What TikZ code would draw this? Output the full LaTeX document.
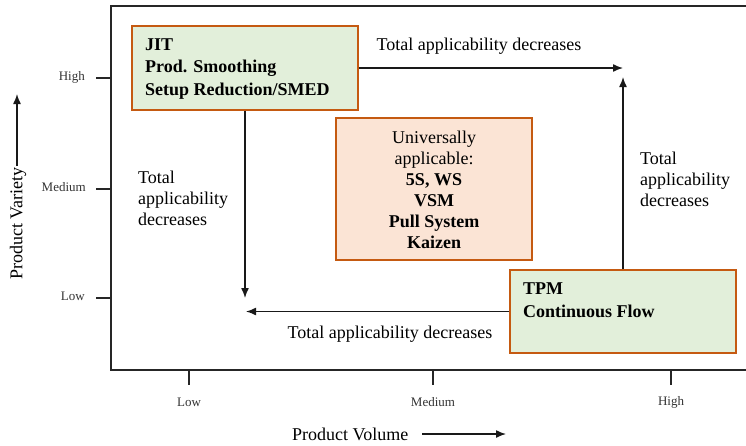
\documentclass[tikz,border=0pt]{standalone}
\usepackage{fontspec}
\setmainfont{Liberation Serif}
\usetikzlibrary{arrows.meta}
\definecolor{boxgreen}{HTML}{E2EFDA}
\definecolor{boxpeach}{HTML}{FBE4D5}
\definecolor{boxedge}{HTML}{C55A11}
\begin{document}
\begin{tikzpicture}[x=1pt,y=-1pt,
  frame/.style={line width=1.6pt, black!85},
  tick/.style={line width=1.4pt, black!85},
  gbox/.style={draw=boxedge, fill=boxgreen, line width=1.4pt, inner sep=0pt},
  pbox/.style={draw=boxedge, fill=boxpeach, line width=1.4pt, inner sep=0pt},
  arr/.style={line width=1.4pt, black!90, -{Latex[length=10pt,width=8pt]}},
  big/.style={font=\fontsize{18}{21}\selectfont, inner sep=0pt},
  bigb/.style={font=\fontsize{18}{22.5}\selectfont\bfseries, inner sep=0pt},
  small/.style={font=\fontsize{13}{15}\selectfont, inner sep=0pt, text=black!80},
]
\useasboundingbox (0,0) rectangle (746,445);
% frame
\draw[frame] (746,6) -- (111,6) -- (111,370) -- (746,370);
% y ticks
\draw[tick] (96,78) -- (111,78);
\draw[tick] (96,189) -- (111,189);
\draw[tick] (96,298) -- (111,298);
\node[small, anchor=east] (yhigh) at (85,77) {High};
\node[small, anchor=east] (ymed) at (86,187) {Medium};
\node[small, anchor=east] (ylow) at (85,296) {Low};
% x ticks
\draw[tick] (189,370) -- (189,385);
\draw[tick] (433,370) -- (433,385);
\draw[tick] (671,370) -- (671,385);
\node[small] (xlow) at (189,402) {Low};
\node[small] (xmed) at (433,402) {Medium};
\node[small] (xhigh) at (671,402) {High};
% axis titles
\node[big, anchor=west] (xtitle) at (292,434) {Product Volume};
\coordinate (xa1) at (422,434);
\coordinate (xa2) at (506,434);
\draw[arr] (xa1) -- (xa2);
\node[big, rotate=90, anchor=west] (ytitle) at (18,280) {Product Variety};
\coordinate (ya1) at (17,166);
\coordinate (ya2) at (17,94);
\draw[arr] (ya1) -- (ya2);
% boxes
\node[gbox, minimum width=226pt, minimum height=84pt] (jit) at (245,68) {};
\node[bigb, anchor=west, align=left] (jittext) at (145,69) {JIT\\Prod. Smoothing\\Setup Reduction/SMED};
\node[pbox, minimum width=196pt, minimum height=142pt] (uni) at (434,189) {};
\node[big, align=center] (unitext) at (434,189.5) {Universally\\applicable:\\\textbf{5S, WS}\\\textbf{VSM}\\\textbf{Pull System}\\\textbf{Kaizen}};
\node[gbox, minimum width=226pt, minimum height=83pt] (tpm) at (623,311.5) {};
\node[bigb, anchor=west, align=left] (tpmtext) at (523,300) {TPM\\Continuous Flow};
% arrows
\coordinate (topend) at (623,68);
\coordinate (rightend) at (623,77);
\coordinate (leftend) at (245,298);
\coordinate (botend) at (246,311.5);
\draw[arr] (jit.east) -- (topend);
\draw[arr] (tpm.north) -- (rightend);
\draw[arr] (jit.south) -- (leftend);
\draw[arr] (tpm.west) -- (botend);
% arrow labels
\node[big] (ltop) at (479,46) {Total applicability decreases};
\node[big] (lbot) at (390,334) {Total applicability decreases};
\node[big, anchor=west, align=left] (lleft) at (138,198) {Total\\applicability\\decreases};
\node[big, anchor=west, align=left] (lright) at (640,179) {Total\\applicability\\decreases};
\end{tikzpicture}
\end{document}
